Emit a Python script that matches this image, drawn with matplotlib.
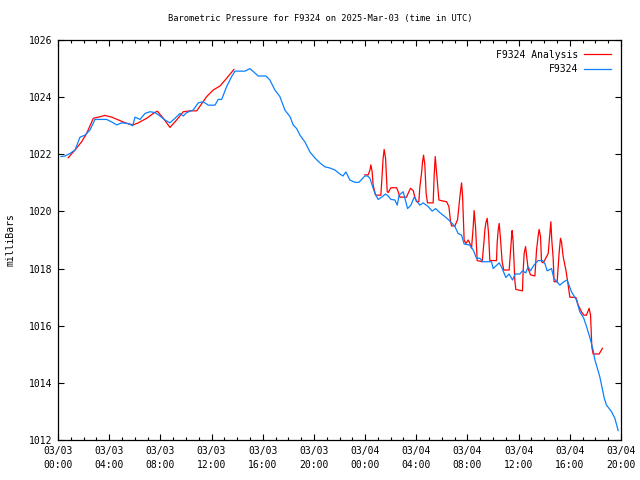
#!/usr/bin/env python3
# Barometric pressure, station vs analysis, gnuplot look
from datetime import datetime, timedelta

import numpy as np
import matplotlib
matplotlib.use('Agg')
import matplotlib.pyplot as plt
from matplotlib.ticker import MultipleLocator, FuncFormatter

START = datetime(2025, 3, 3, 0, 0)

# hours since 2025-03-03 00:00 UTC
obs_hours = [0.23, 0.55, 0.94, 1.33, 1.72, 2.11, 2.5, 2.89, 3.8, 4.2, 4.59, 4.98,
             5.47, 5.84, 6.02, 6.41, 6.8, 7.19, 7.58, 7.97, 8.36, 8.75, 9.14, 9.53,
             9.79, 10.05, 10.57, 10.96, 11.35, 11.74, 12.27, 12.52, 12.79, 13.18,
             13.57, 13.83, 14.61, 15.0, 15.65, 16.25, 16.56, 16.95, 17.34, 17.73,
             18.13, 18.38, 18.65, 18.91, 19.3, 19.69, 20.08, 20.47, 20.86, 21.25,
             21.64, 22.03, 22.27, 22.5, 22.81, 23.2, 23.52, 23.98, 24.2, 24.38,
             24.55, 24.77, 25.02, 25.29, 25.6, 25.8, 26.02, 26.33, 26.51, 26.66,
             26.98, 27.11, 27.32, 27.58, 27.84, 28.02, 28.28, 28.54, 28.93, 29.24,
             29.51, 29.84, 30.23, 30.49, 30.76, 31.02, 31.27, 31.54, 31.74, 32.19,
             32.45, 32.71, 32.97, 33.18, 33.88, 34.01, 34.48, 34.66, 35.0, 35.26,
             35.52, 35.73, 36.09, 36.3, 36.56, 36.74, 36.93, 37.19, 37.52, 37.87,
             38.05, 38.23, 38.57, 38.75, 39.22, 39.53, 39.79, 40.13, 40.52, 40.78,
             41.09, 41.35, 41.62, 41.82, 41.95, 42.34, 42.7, 42.87, 43.26, 43.52,
             43.78]
obs_mbar = [1021.92, 1021.94, 1022.03, 1022.15, 1022.6, 1022.67, 1022.85, 1023.22,
            1023.22, 1023.13, 1023.03, 1023.1, 1023.08, 1023.0, 1023.3, 1023.22,
            1023.43, 1023.49, 1023.46, 1023.34, 1023.2, 1023.1, 1023.26, 1023.43,
            1023.34, 1023.46, 1023.55, 1023.8, 1023.84, 1023.72, 1023.72, 1023.92,
            1023.92, 1024.37, 1024.72, 1024.91, 1024.91, 1025.0, 1024.74, 1024.74,
            1024.6, 1024.25, 1024.02, 1023.55, 1023.32, 1023.03, 1022.9, 1022.67,
            1022.43, 1022.08, 1021.87, 1021.7, 1021.56, 1021.52, 1021.45, 1021.31,
            1021.24, 1021.38, 1021.1, 1021.02, 1021.02, 1021.24, 1021.24, 1021.16,
            1020.92, 1020.63, 1020.42, 1020.5, 1020.61, 1020.54, 1020.42, 1020.4,
            1020.22, 1020.57, 1020.69, 1020.46, 1020.1, 1020.22, 1020.5, 1020.38,
            1020.22, 1020.3, 1020.17, 1020.01, 1020.1, 1019.96, 1019.82, 1019.72,
            1019.6, 1019.47, 1019.23, 1019.17, 1018.86, 1018.82, 1018.65, 1018.36,
            1018.36, 1018.24, 1018.24, 1018.0, 1018.2, 1018.06, 1017.69, 1017.81,
            1017.6, 1017.81, 1017.81, 1017.92, 1017.85, 1018.06, 1017.92, 1018.12,
            1018.28, 1018.28, 1018.18, 1017.92, 1018.0, 1017.66, 1017.42, 1017.54,
            1017.6, 1017.19, 1016.9, 1016.49, 1016.26, 1015.91, 1015.5, 1015.15,
            1014.82, 1014.22, 1013.45, 1013.22, 1012.99, 1012.76, 1012.33]

# analysis (NaN = gap where it sits under the observations)
ana_hours = [0.8, 1.33, 1.85, 2.24, 2.76, 3.15, 3.67, 4.2, 4.84, 5.37, 5.88, 6.27,
             6.93, 7.45, 7.76, 8.23, 8.75, 9.27, 9.79, 10.31, 10.84, 11.62, 12.13,
             12.66, 13.18, 13.75, 18.0,
             23.98, 24.24, 24.38, 24.45, 24.55, 24.63, 24.82, 25.23, 25.29, 25.41,
             25.49, 25.6, 25.73, 25.8, 26.02, 26.46, 26.59, 26.72, 27.24, 27.37,
             27.55, 27.76, 27.89, 28.02, 28.2, 28.28, 28.41, 28.49, 28.57, 28.67,
             28.77, 28.88, 29.32, 29.4, 29.48, 29.59, 29.77, 30.02, 30.37, 30.55,
             30.68, 30.76, 31.02, 31.23, 31.41, 31.54, 31.62, 31.74, 31.88, 32.06,
             32.19, 32.32, 32.45, 32.52, 32.63, 32.76, 33.15, 33.28, 33.36, 33.44,
             33.54, 33.65, 33.75, 34.27, 34.32, 34.4, 34.48, 34.59, 34.71, 34.84,
             35.26, 35.37, 35.45, 35.49, 35.57, 35.7, 35.78, 36.3, 36.35, 36.43,
             36.54, 36.62, 36.74, 36.93, 37.27, 37.4, 37.52, 37.6, 37.71, 37.79,
             37.91, 38.05, 38.31, 38.44, 38.52, 38.59, 38.7, 38.77, 39.01, 39.16,
             39.27, 39.35, 39.48, 39.69, 39.87, 40.0, 40.47, 40.65, 40.91, 41.09,
             41.3, 41.51, 41.62, 41.72, 41.82, 42.29, 42.55]
ana_mbar = [1021.88, 1022.15, 1022.44, 1022.73, 1023.26, 1023.3, 1023.36, 1023.3,
            1023.18, 1023.08, 1023.03, 1023.1, 1023.26, 1023.43, 1023.51, 1023.26,
            1022.94, 1023.2, 1023.49, 1023.52, 1023.52, 1024.02, 1024.25, 1024.39,
            1024.66, 1024.97, np.nan,
            1021.28, 1021.28, 1021.45, 1021.63, 1021.4, 1020.92, 1020.57, 1020.57,
            1020.98, 1021.86, 1022.17, 1021.86, 1020.69, 1020.66, 1020.83, 1020.83,
            1020.69, 1020.5, 1020.5, 1020.64, 1020.81, 1020.73, 1020.5, 1020.34,
            1020.34, 1020.86, 1021.33, 1021.74, 1021.97, 1021.62, 1020.63, 1020.3,
            1020.3, 1021.28, 1021.92, 1021.33, 1020.4, 1020.37, 1020.34, 1020.17,
            1019.64, 1019.49, 1019.49, 1019.72, 1020.52, 1021.0, 1020.52, 1019.0,
            1018.88, 1019.0, 1018.88, 1018.71, 1019.47, 1020.03, 1019.47, 1018.28,
            1018.24, 1018.88, 1019.35, 1019.6, 1019.76, 1019.23, 1018.28, 1018.28,
            1018.88, 1019.35, 1019.58, 1018.99, 1018.24, 1017.95, 1017.95, 1018.65,
            1019.12, 1019.33, 1018.94, 1017.6, 1017.27, 1017.22, 1017.89, 1018.53,
            1018.77, 1018.45, 1018.0, 1017.78, 1017.74, 1018.65, 1019.12, 1019.37,
            1019.12, 1018.24, 1018.2, 1018.3, 1018.53, 1019.23, 1019.64, 1019.0,
            1018.36, 1017.54, 1017.54, 1018.53, 1019.06, 1018.94, 1018.42, 1017.95,
            1017.43, 1017.0, 1016.99, 1016.73, 1016.49, 1016.37, 1016.37, 1016.61,
            1016.37, 1015.26, 1015.01, 1015.01, 1015.21]

FONT = 'DejaVu Sans Mono'
FS = 6.5

plt.rcParams['font.family'] = FONT
plt.rcParams['font.size'] = FS

fig = plt.figure(figsize=(6.4, 4.8), dpi=100)
ax = fig.add_axes([58 / 640, 40 / 480, 563 / 640, 400 / 480])

ax.plot(ana_hours, ana_mbar, color='#ff0000', lw=0.9, label='F9324 Analysis')
ax.plot(obs_hours, obs_mbar, color='#0a80ff', lw=0.9, label='F9324')

ax.set_xlim(0, 44)
ax.set_ylim(1012, 1026)

ax.xaxis.set_major_locator(MultipleLocator(4))
ax.xaxis.set_minor_locator(MultipleLocator(1))
ax.yaxis.set_major_locator(MultipleLocator(2))


def fmt_time(h, pos):
    t = START + timedelta(hours=h)
    return t.strftime('%m/%d\n%H:%M')


ax.xaxis.set_major_formatter(FuncFormatter(fmt_time))
ax.yaxis.set_major_formatter(FuncFormatter(lambda v, p: '%d' % v))

ax.tick_params(which='both', direction='in', top=True, right=True, width=0.8,
               labelsize=7, colors='black')
ax.tick_params(which='major', length=4.5, pad=4)
ax.tick_params(which='minor', length=2.2)
for lbl in ax.get_xticklabels():
    lbl.set_linespacing(1.6)
for sp in ax.spines.values():
    sp.set_linewidth(0.9)

ax.set_ylabel('milliBars', fontsize=7, labelpad=10)
# gnuplot centres the title on the whole canvas, not on the plot box
fig.text(0.5, 1 - 19 / 480, 'Barometric Pressure for F9324 on 2025-Mar-03 (time in UTC)',
         ha='center', va='center', fontsize=6.3)

ax.legend(loc='upper right', frameon=False, markerfirst=False, fontsize=7,
          handlelength=2.8, handletextpad=0.6, labelspacing=0.45,
          borderaxespad=0.6)

fig.savefig('out.png', dpi=100)
